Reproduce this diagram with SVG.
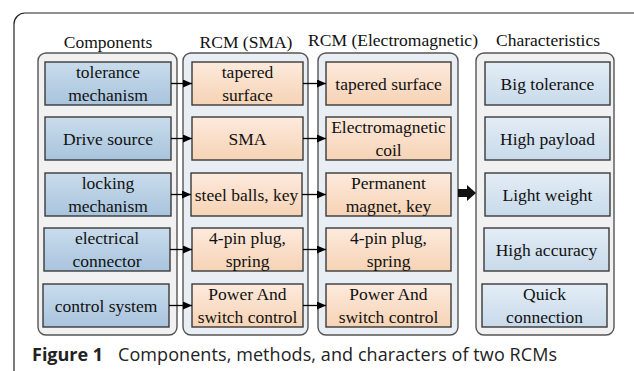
<svg xmlns="http://www.w3.org/2000/svg" width="634" height="371" viewBox="0 0 634 371">
<defs>
<linearGradient id="gComp" x1="0" y1="0" x2="0" y2="1"><stop offset="0" stop-color="#c9dcec"/><stop offset="1" stop-color="#a8c4dd"/></linearGradient>
<linearGradient id="gRcm" x1="0" y1="0" x2="0" y2="1"><stop offset="0" stop-color="#fdeadd"/><stop offset="1" stop-color="#f6d3b5"/></linearGradient>
<linearGradient id="gChar" x1="0" y1="0" x2="0" y2="1"><stop offset="0" stop-color="#e3edf6"/><stop offset="1" stop-color="#c8daea"/></linearGradient>
<marker id="ah" markerWidth="9" markerHeight="8" refX="9" refY="4" orient="auto" markerUnits="userSpaceOnUse"><path d="M0,0 L9,4 L0,8 Z" fill="#000"/></marker>
</defs>
<style>
.grp{stroke:#555;stroke-width:1.4}
.g1{fill:#f1f1f1}
.g2{fill:#e9eef5}
.box{stroke:#3a3a3a;stroke-width:1.4}
.c{fill:url(#gComp)}
.r{fill:url(#gRcm)}
.h{fill:url(#gChar)}
.t{font-family:'Liberation Serif',serif;font-size:17.5px;fill:#111;text-anchor:middle}
.cap{font-family:'Open Sans','Noto Sans',sans-serif;font-size:18px;fill:#222}
.conn line{stroke:#000;stroke-width:1.3;marker-end:url(#ah)}
</style>
<rect x="14" y="13" width="640" height="400" rx="11" fill="#fff" stroke="#222" stroke-width="1.2"/>
<g id="headers" class="t">
<text x="108" y="48">Components</text>
<text x="246" y="48">RCM (SMA)</text>
<text x="393" y="46" textLength="170" lengthAdjust="spacingAndGlyphs">RCM (Electromagnetic)</text>
<text x="548" y="46">Characteristics</text>
</g>
<g id="groups">
<rect id="grp-components" class="grp g1" x="38" y="53" width="139" height="282" rx="8"/>
<rect id="grp-sma" class="grp g2" x="183" y="53" width="125" height="282" rx="8"/>
<rect id="grp-em" class="grp g2" x="318" y="53" width="140" height="282" rx="8"/>
<rect id="grp-char" class="grp g1" x="476" y="53" width="138" height="282" rx="8"/>
</g>
<g class="t">
<g id="comp1"><rect class="box c" x="45" y="62" width="126" height="43"/><text x="108" y="78">tolerance</text><text x="108" y="100.5">mechanism</text></g>
<g id="comp2"><rect class="box c" x="45" y="117" width="126" height="43"/><text x="108" y="145">Drive source</text></g>
<g id="comp3"><rect class="box c" x="45" y="173" width="126" height="43"/><text x="108" y="189">locking</text><text x="108" y="211.5">mechanism</text></g>
<g id="comp4"><rect class="box c" x="44" y="228" width="126" height="43"/><text x="107" y="244">electrical</text><text x="107" y="266.5">connector</text></g>
<g id="comp5"><rect class="box c" x="43" y="284" width="126" height="43"/><text x="106" y="311.5">control system</text></g>

<g id="sma1"><rect class="box r" x="192" y="62" width="111" height="43"/><text x="247.5" y="78">tapered</text><text x="247.5" y="100.5">surface</text></g>
<g id="sma2"><rect class="box r" x="192" y="117" width="111" height="43"/><text x="247.5" y="145">SMA</text></g>
<g id="sma3"><rect class="box r" x="191" y="173" width="111" height="43"/><text x="246.5" y="200.5">steel balls, key</text></g>
<g id="sma4"><rect class="box r" x="192" y="228" width="111" height="43"/><text x="247.5" y="244">4-pin plug,</text><text x="247.5" y="266.5">spring</text></g>
<g id="sma5"><rect class="box r" x="192" y="284" width="111" height="43"/><text x="247.5" y="300">Power And</text><text x="247.5" y="322.5">switch control</text></g>

<g id="em1"><rect class="box r" x="326" y="62" width="125" height="43"/><text x="388.5" y="89.5">tapered surface</text></g>
<g id="em2"><rect class="box r" x="326" y="117" width="125" height="43"/><text x="388.5" y="133">Electromagnetic</text><text x="388.5" y="155.5">coil</text></g>
<g id="em3"><rect class="box r" x="326" y="173" width="125" height="43"/><text x="388.5" y="189">Permanent</text><text x="388.5" y="211.5">magnet, key</text></g>
<g id="em4"><rect class="box r" x="326" y="228" width="125" height="43"/><text x="388.5" y="244">4-pin plug,</text><text x="388.5" y="266.5">spring</text></g>
<g id="em5"><rect class="box r" x="326" y="284" width="125" height="43"/><text x="388.5" y="300">Power And</text><text x="388.5" y="322.5">switch control</text></g>

<g id="ch1"><rect class="box h" x="485" y="62" width="125" height="43"/><text x="547.5" y="89.5">Big tolerance</text></g>
<g id="ch2"><rect class="box h" x="485" y="117" width="125" height="43"/><text x="547.5" y="145">High payload</text></g>
<g id="ch3"><rect class="box h" x="485" y="173" width="125" height="43"/><text x="547.5" y="200.5">Light weight</text></g>
<g id="ch4"><rect class="box h" x="484" y="228" width="125" height="43"/><text x="546.5" y="256">High accuracy</text></g>
<g id="ch5"><rect class="box h" x="482" y="284" width="125" height="43"/><text x="544.5" y="300">Quick</text><text x="544.5" y="322.5">connection</text></g>
</g>
<g id="connectors" class="conn">
<line x1="171" y1="83.5" x2="192" y2="83.5"/>
<line x1="171" y1="138.5" x2="192" y2="138.5"/>
<line x1="171" y1="194.5" x2="191" y2="194.5"/>
<line x1="170" y1="249.5" x2="192" y2="249.5"/>
<line x1="169" y1="305.5" x2="192" y2="305.5"/>
<line x1="303" y1="83.5" x2="326" y2="83.5"/>
<line x1="303" y1="138.5" x2="326" y2="138.5"/>
<line x1="302" y1="194.5" x2="326" y2="194.5"/>
<line x1="303" y1="249.5" x2="326" y2="249.5"/>
<line x1="303" y1="305.5" x2="326" y2="305.5"/>
<path d="M458,189 L467,189 L467,185 L476,193 L467,201 L467,197 L458,197 Z" fill="#111"/>
</g>
<text class="cap" x="32" y="361"><tspan font-weight="bold">Figure 1</tspan><tspan x="118" textLength="439">Components, methods, and characters of two RCMs</tspan></text>
</svg>
